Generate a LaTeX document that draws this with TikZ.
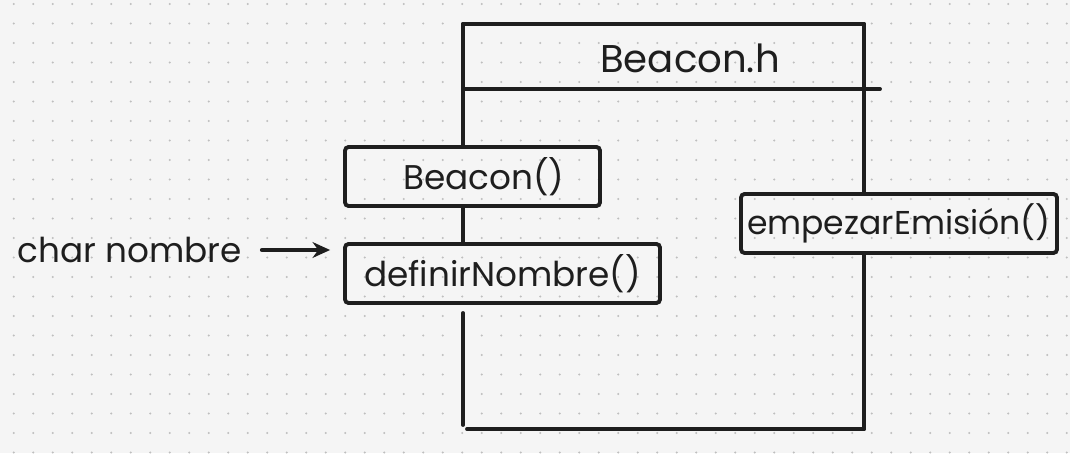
\documentclass[tikz,border=0pt]{standalone}
\usepackage{fontspec}
\setmainfont{Poppins}
\usetikzlibrary{arrows.meta}
\definecolor{ink}{HTML}{1E1E1E}
\definecolor{paper}{HTML}{F5F5F5}
\definecolor{dotgray}{HTML}{BEBEBE}
\begin{document}
\begin{tikzpicture}
        [x=0.02cm,y=-0.02cm,
         line/.style={draw=ink,line width=2.2pt,line cap=round},
         method/.style={rectangle,draw=ink,line width=2.2pt,rounded corners=2pt,minimum height=1.18cm,inner sep=0pt,text=ink,font=\fontsize{19.5}{21}\selectfont}]
        \fill[paper] (0,0) rectangle (1070,453);
        \foreach \i in {0,...,54}
          \foreach \j in {0,...,23}
            \fill[dotgray] (13.7+19.5*\i,4+19.5*\j) circle (0.65pt);
        \coordinate (tl) at (463,24);
        \coordinate (tr) at (864,24);
        \coordinate (sepl) at (463,89);
        \coordinate (sepr) at (880,89);
        \coordinate (gap) at (463,313);
        \coordinate (bl) at (463,425);
        \coordinate (bll) at (467,429);
        \coordinate (br) at (864,429);
        \node[text=ink,font=\fontsize{22}{24}\selectfont] (title) at (690,58) {Beacon.h};
        \node[method,minimum width=5.1cm] (constructor) at (472.5,176.5) {\hspace{0.45cm}Beacon()};
        \node[method,minimum width=6.3cm] (setname) at (502.5,273.5) {definirNombre()};
        \node[method,minimum width=6.32cm,font=\fontsize{18.8}{21}\selectfont] (emit) at (899,223.5) {empezarEmisión()};
        \node[text=ink,anchor=west,inner sep=0pt,font=\fontsize{19.5}{21}\selectfont] (param) at (17,250) {char nombre};
        \draw[line] (tl) -- (tr);
        \draw[line] (sepl) -- (sepr);
        \draw[line] (tl) -- (constructor.north -| tl);
        \draw[line] (constructor.south -| tl) -- (setname.north -| tl);
        \draw[line] (gap) -- (bl);
        \draw[line] (bll) -- (br);
        \draw[line] (tr) -- (emit.north -| tr);
        \draw[line] (emit.south -| tr) -- (br);
        \draw[line,-{Stealth[length=10pt,width=9pt]},shorten <=0.4cm,shorten >=0.26cm] (param.east) -- (param.east -| setname.west);
      \end{tikzpicture}
\end{document}
